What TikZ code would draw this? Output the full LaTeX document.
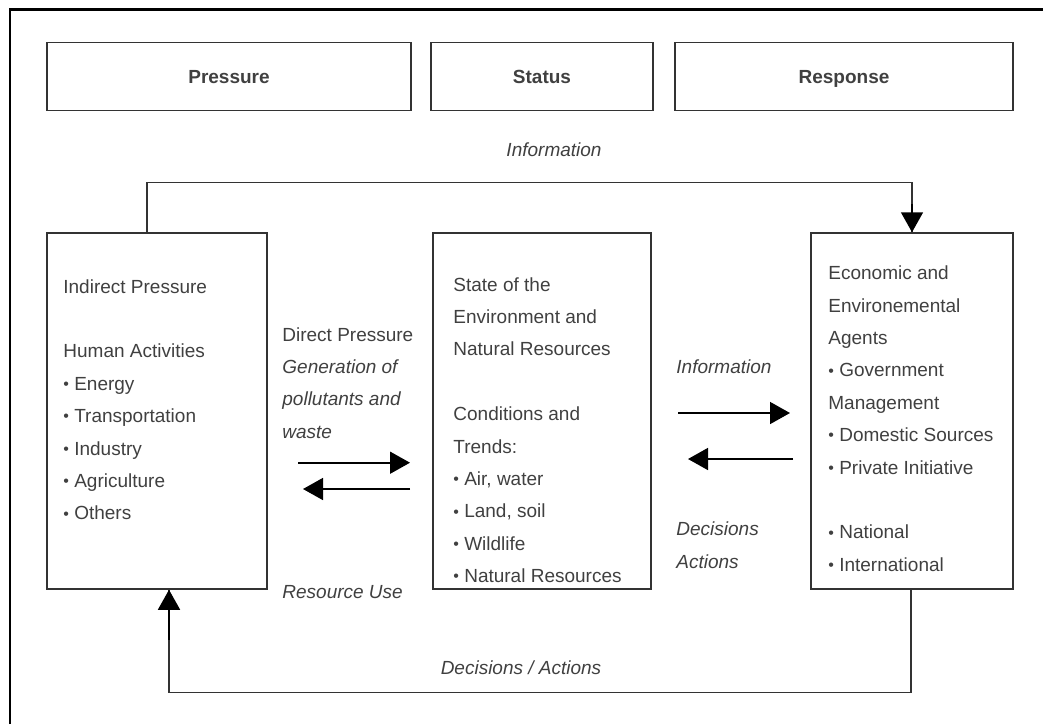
\documentclass[tikz,border=0pt]{standalone}
\usepackage{fontspec}
\setmainfont{Liberation Sans}
\usetikzlibrary{arrows.meta,positioning}

\definecolor{boxgray}{HTML}{333333}
\definecolor{txtgray}{HTML}{404040}

% small bullet for list items
\newcommand{\itm}{{\fontsize{8}{0}\selectfont\raisebox{0.4pt}{\textbullet}}\ }

\begin{document}
\begin{tikzpicture}[x=0.5pt,y=-0.5pt,>={Triangle[length=10pt,width=11pt]},
  hdr/.style={draw=boxgray,line width=0.75pt,minimum height=34pt,inner sep=0pt,
              text height=7pt,text depth=0pt,
              text=txtgray,font=\fontsize{9.5}{11}\selectfont\bfseries},
  bigbox/.style={draw=boxgray,line width=0.75pt,minimum height=178pt,inner sep=0pt},
  txt/.style={text=txtgray,inner sep=0pt,align=left,anchor=north west,
              font=\fontsize{9.5}{16.2}\selectfont},
  itxt/.style={txt,font=\fontsize{9.5}{16.2}\selectfont\itshape},
  link/.style={draw=boxgray,line width=0.75pt},
  flow/.style={->,line width=0.8pt}]

  \useasboundingbox (0,0) rectangle (1043,724);

  % --- outer frame (only top and left edges show) ---
  \draw[line width=1.4pt] (10,724) -- (10,9.7) -- (1043,9.7);

  % --- header row ---
  \node[hdr,minimum width=182pt] (pressure) at (229,76.7) {Pressure};
  \node[hdr,minimum width=111pt] (status)   at (542,76.7) {Status};
  \node[hdr,minimum width=169pt] (response) at (844,76.7) {Response};

  % --- main boxes ---
  \node[bigbox,minimum width=110pt] (lbox) at (157,411) {};
  \node[bigbox,minimum width=109pt] (mbox) at (542,411) {};
  \node[bigbox,minimum width=101pt] (rbox) at (912,411) {};

  % --- box contents ---
  \node[txt] (ltext) at (63,279) {Indirect Pressure\\[16.2pt]
    Human Activities\\
    \itm Energy\\
    \itm Transportation\\
    \itm Industry\\
    \itm Agriculture\\
    \itm Others};
  \node[txt] (mtext) at (453,277) {State of the\\
    Environment and\\
    Natural Resources\\[16.2pt]
    Conditions and\\
    Trends:\\
    \itm Air, water\\
    \itm Land, soil\\
    \itm Wildlife\\
    \itm Natural Resources};
  \node[txt] (rtext) at (828,265.5) {Economic and\\
    Environemental\\
    Agents\\
    \itm Government\\
    Management\\
    \itm Domestic Sources\\
    \itm Private Initiative\\[16.2pt]
    \itm National\\
    \itm International};

  % --- labels between boxes ---
  \node[txt] (dplabel) at (282,327) {Direct Pressure\\
    \itshape Generation of\\
    \itshape pollutants and\\
    \itshape waste};
  \node[itxt] (rulabel) at (282,585.5) {Resource Use};
  \node[itxt] (inlabel) at (676,359) {Information};
  \node[itxt] (dalabel) at (676,521.5) {Decisions\\Actions};
  \node[itxt,anchor=north] (toplabel) at (554,142.7) {Information};
  \node[itxt,anchor=north] (botlabel) at (521,660.5) {Decisions / Actions};

  % --- short arrows ---
  \coordinate (dpA) at (298,462.7); \coordinate (dpB) at (410,462.7);
  \coordinate (ruA) at (410,489);   \coordinate (ruB) at (303,489);
  \coordinate (inA) at (678,413);   \coordinate (inB) at (790,413);
  \coordinate (daA) at (793,459);   \coordinate (daB) at (688,459);
  \draw[flow] (dpA) -- (dpB);
  \draw[flow] (ruA) -- (ruB);
  \draw[flow] (inA) -- (inB);
  \draw[flow] (daA) -- (daB);

  % --- feedback loops ---
  \coordinate (infobar) at (500,182.7);
  \coordinate (decbar)  at (500,692.7);
  \draw[link] ([xshift=-5pt]lbox.north) |- (infobar) -| (rbox.north);
  \draw[flow] ([yshift=14pt]rbox.north) -- (rbox.north);
  \draw[link] ([xshift=-0.5pt]rbox.south) |- (decbar) -| ([xshift=6pt]lbox.south);
  \draw[flow] ([xshift=6pt,yshift=-25pt]lbox.south) -- ([xshift=6pt]lbox.south);

\end{tikzpicture}
\end{document}
